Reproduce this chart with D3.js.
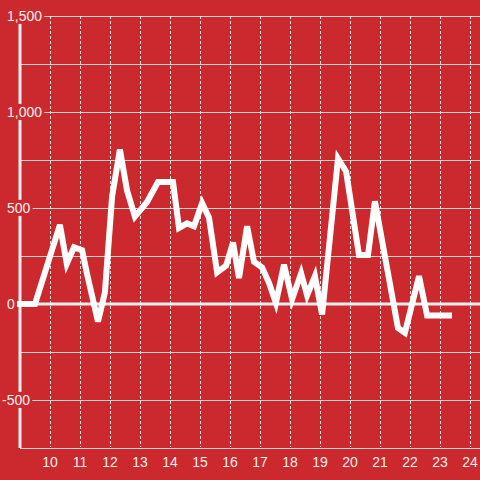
<!DOCTYPE html>
<html><head><meta charset="utf-8">
<script src="https://cdn.jsdelivr.net/npm/d3@7"></script>
<style>html,body{margin:0;padding:0;background:#cc292e;}svg{display:block;}</style>
</head><body>
<svg id="c" width="480" height="480"></svg>
<script>
const hours = [9.0,9.5,10.33,10.56,10.8,11.07,11.23,11.6,11.83,12.07,12.33,12.57,12.83,13.23,13.6,14.1,14.3,14.57,14.8,15.07,15.3,15.57,15.87,16.1,16.3,16.57,16.8,17.07,17.3,17.53,17.8,18.07,18.37,18.57,18.83,19.07,19.6,19.87,20.3,20.6,20.83,21.6,21.83,22.3,22.57,23.3];
const values = [0,0,412,210,295,280,160,-92,60,560,805,590,455,530,635,635,396,420,405,525,450,165,200,320,135,405,220,190,110,5,205,25,160,45,145,-55,758,690,255,255,535,-125,-150,145,-60,-60];
const xTicks = [10,11,12,13,14,15,16,17,18,19,20,21,22,23,24];
const yGrid = [-750,-500,-250,0,250,500,750,1000,1250,1500];
const yTicks = [-500,0,500,1000,1500];
const yTickLabels = ["-500","0","500","1,000","1,500"];

const bg = "#cc292e";
const svg = d3.select("#c");
svg.append("rect").attr("width",480).attr("height",480).attr("fill",bg);
const x = d3.scaleLinear().domain([9, 24 + 1/3]).range([20, 480]);
const y = d3.scaleLinear().domain([-750, 1500]).range([448, 16]);

// horizontal grid
svg.append("g").selectAll("line").data(yGrid.filter(v=>v!==0)).join("line")
  .attr("x1",20).attr("x2",480).attr("y1",d=>y(d)).attr("y2",d=>y(d))
  .attr("stroke","#d4d4d4").attr("stroke-width",1).attr("shape-rendering","crispEdges");
// vertical dashed grid
svg.append("g").selectAll("line").data(xTicks).join("line")
  .attr("x1",d=>x(d)+0.5).attr("x2",d=>x(d)+0.5).attr("y1",16).attr("y2",447)
  .attr("stroke","#e0e0e0").attr("stroke-width",1).attr("stroke-dasharray","3,2");
// zero line
svg.append("line").attr("x1",20).attr("x2",480).attr("y1",y(0)).attr("y2",y(0))
  .attr("stroke","#eeeeee").attr("stroke-width",3);
// y axis line
svg.append("line").attr("x1",20).attr("x2",20).attr("y1",16).attr("y2",448)
  .attr("stroke","#f0f0f0").attr("stroke-width",3);

// data line
const pts = hours.map((h,i)=>[h, values[i]]);
svg.append("path").datum(pts)
  .attr("d", d3.line().x(d=>x(d[0])).y(d=>y(d[1])))
  .attr("fill","none").attr("stroke","#ffffff").attr("stroke-width",6)
  .attr("stroke-linecap","square");

// y labels with background
const yl = svg.append("g").attr("font-family","'Liberation Sans', Arial, sans-serif").attr("font-size",14).attr("fill","#f2f2f2");
yTicks.forEach((v,i)=>{
  const g = yl.append("g");
  const t = g.append("text").attr("x", v<0 ? 2 : 7).attr("y", y(v)).attr("dy","0.35em").text(yTickLabels[i]);
  const b = t.node().getBBox();
  g.insert("rect","text").attr("x",b.x-2).attr("y",b.y).attr("width",b.width+4).attr("height",b.height).attr("fill",bg);
});

// x labels
svg.append("g").attr("font-family","'Liberation Sans', Arial, sans-serif").attr("font-size",14).attr("fill","#f2f2f2")
  .selectAll("text").data(xTicks).join("text")
  .attr("x",d=>x(d)).attr("y",467).attr("text-anchor","middle").text(d=>d);
</script>
</body></html>
